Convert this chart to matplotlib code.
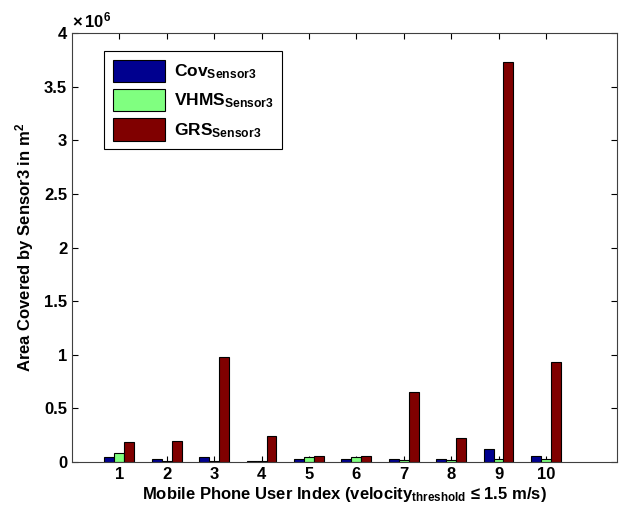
import numpy as np
import matplotlib
matplotlib.use('Agg')
import matplotlib.pyplot as plt
from matplotlib.ticker import FuncFormatter

plt.rcParams['font.family'] = ['Liberation Sans', 'DejaVu Sans']
plt.rcParams['font.weight'] = 'bold'
plt.rcParams['mathtext.fontset'] = 'custom'
plt.rcParams['mathtext.bf'] = 'Liberation Sans:bold'
plt.rcParams['mathtext.rm'] = 'Liberation Sans:bold'
plt.rcParams['mathtext.default'] = 'bf'

# data (m^2)
users = [1, 2, 3, 4, 5, 6, 7, 8, 9, 10]
cov = [0.044e6, 0.024e6, 0.047e6, 0.010e6, 0.024e6, 0.024e6, 0.030e6, 0.030e6, 0.118e6, 0.056e6]
vhms = [0.081e6, 0.010e6, 0.010e6, 0.010e6, 0.047e6, 0.047e6, 0.020e6, 0.020e6, 0.030e6, 0.030e6]
grs = [0.184e6, 0.200e6, 0.975e6, 0.246e6, 0.058e6, 0.058e6, 0.650e6, 0.220e6, 3.730e6, 0.930e6]

fig = plt.figure(figsize=(6.21, 5.12), dpi=100)
ax = fig.add_axes([72/621, 50/512, 545/621, 429/512])

x = np.array(users)
w = 0.21
ax.bar(x - w, cov, w, color='#00008F', edgecolor='black', linewidth=0.8, label='Cov$_{Sensor3}$')
ax.bar(x, vhms, w, color='#80FF80', edgecolor='black', linewidth=0.8, label='VHMS$_{Sensor3}$')
ax.bar(x + w, grs, w, color='#800000', edgecolor='black', linewidth=0.8, label='GRS$_{Sensor3}$')

# ticks behind the bars, like matlab's default layer
ax.set_axisbelow(True)
ax.set_xlim(0, 11.5)
ax.set_ylim(0, 4e6)
ax.set_xticks(users)
ax.set_yticks(np.arange(0, 4.01e6, 0.5e6))
ax.yaxis.set_major_formatter(FuncFormatter(lambda v, p: '%g' % (v / 1e6)))
ax.tick_params(direction='in', top=True, right=True, labelsize=12, length=4)
for s in ax.spines.values():
    s.set_color('#404040')

ax.text(0.0, 1.005, r'$\times\,10^6$', transform=ax.transAxes, fontsize=12,
        ha='left', va='bottom')

ax.set_xlabel('Mobile Phone User Index (velocity$_{threshold}$ \u2264 1.5 m/s)',
              fontsize=12, fontweight='bold', labelpad=2)
ax.set_ylabel('Area Covered by Sensor3 in m$^2$', fontsize=12, fontweight='bold', labelpad=6)

leg = ax.legend(loc='upper left', bbox_to_anchor=(0.059, 0.958), fontsize=12.5,
                fancybox=False, edgecolor='black', framealpha=1,
                handlelength=3.0, handleheight=1.6, borderpad=0.5, labelspacing=0.4,
                handletextpad=0.5, borderaxespad=0)
leg.get_frame().set_linewidth(0.8)

fig.savefig('out.png', dpi=100)
